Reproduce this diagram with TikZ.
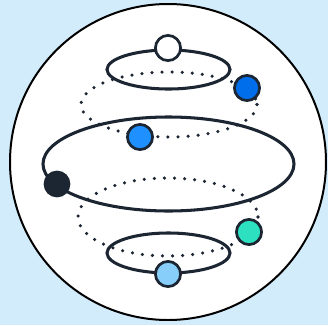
\documentclass[tikz,border=0pt]{standalone}
\usepackage{tikz}
\usetikzlibrary{calc,positioning}
\usepackage{xcolor}

\definecolor{skybg}{RGB}{211,236,252}
\definecolor{ink}{RGB}{28,38,51}
\definecolor{deepblue}{RGB}{0,110,235}
\definecolor{midblue}{RGB}{30,144,255}
\definecolor{paleblue}{RGB}{135,206,250}
\definecolor{teal}{RGB}{45,224,192}

\tikzset{
    ring/.style={draw=ink, line width=2.6pt},
    orbit/.style={draw=ink, line width=3pt, line cap=round, dash pattern=on 0pt off 8.6pt},
    bead/.style={circle, draw=ink, line width=2.3pt, minimum size=21.5pt, inner sep=0pt}
}

\begin{document}
\begin{tikzpicture}[x=0.03cm, y=-0.03cm]
    \fill[skybg] (0,0) rectangle (328,325);
    \useasboundingbox (0,0) rectangle (328,325);

    \coordinate (O) at (168,162);
    \coordinate (T) at (168.5,69.5);
    \coordinate (M) at (168.5,164);
    \coordinate (B) at (168.5,253);

    \draw[black, line width=1.7pt, fill=white] (O) circle (158);

    % dotted orbits
    \draw[orbit] (169,104.5) ellipse (88 and 32.5);
    \draw[orbit] (168,217) ellipse (90 and 39);

    % rings
    \draw[ring] (T) ellipse (61.5 and 19.5);
    \draw[ring] (M) ellipse (125.5 and 47);
    \draw[ring] (B) ellipse (61.5 and 20);

    \node[bead, fill=white] (top) at (168,48) {};
    \node[bead, fill=deepblue] (upright) at (247,88) {};
    \node[bead, fill=midblue] (upleft) at (140,137) {};
    \node[bead, fill=ink, minimum size=20.5pt] (left) at (57,184) {};
    \node[bead, fill=teal] (lowright) at (249,232) {};
    \node[bead, fill=paleblue] (bottom) at (168,274) {};
\end{tikzpicture}
\end{document}
